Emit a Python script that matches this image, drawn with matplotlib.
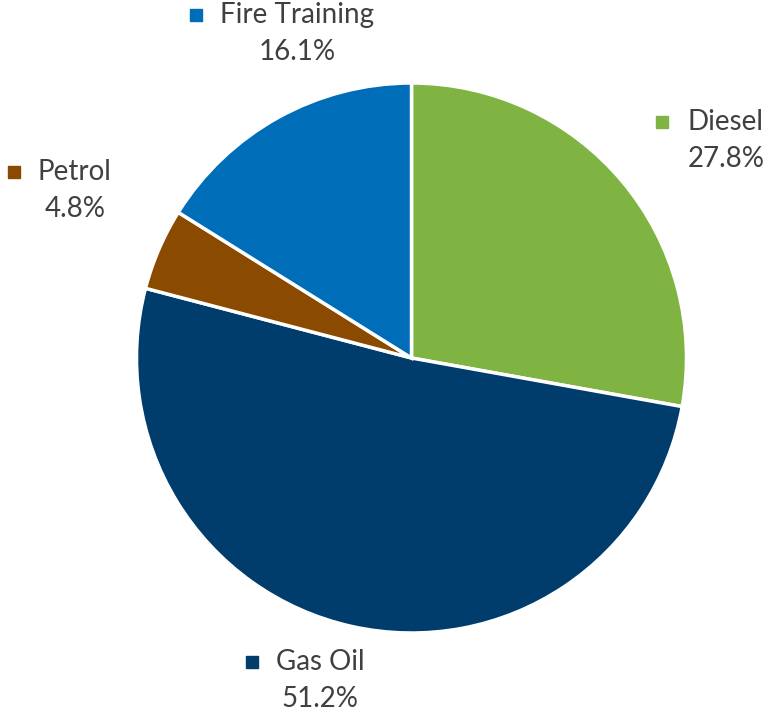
import matplotlib
matplotlib.use('Agg')
import matplotlib.pyplot as plt

labels = ['Diesel', 'Gas Oil', 'Petrol', 'Fire Training']
values = [27.8, 51.2, 4.8, 16.1]
colors = ['#80B442', '#003C6C', '#8A4A00', '#006DB9']

# layout in pixels (image coords): marker x, name left x, name y, percent center x
label_pos = [(662, 688, 122, 726), (252, 276, 662, 320),
             (14, 38, 172, 75), (196, 220, 15, 297)]

fig = plt.figure(figsize=(7.66, 7.17), dpi=100)
ax = fig.add_axes([0, 0, 1, 1])
H = 717

ax.pie(values, colors=colors, startangle=90, counterclock=False,
       center=(411.5, H - 358), radius=275,
       wedgeprops=dict(edgecolor='white', linewidth=2.5))
ax.set_xlim(0, 766)
ax.set_ylim(0, H)
ax.set_aspect('auto')
ax.axis('off')

txt_color = '#404040'
for lab, val, col, (mx, tx, y, px) in zip(labels, values, colors, label_pos):
    ax.plot(mx, H - y, marker='s', markersize=8, color=col, linestyle='none')
    ax.text(tx, H - y, lab, ha='left', va='center', fontsize=20,
            family='Lato', color=txt_color)
    ax.text(px, H - y - 37, f'{val:.1f}%', ha='center', va='center',
            fontsize=20, family='Lato', color=txt_color)

fig.savefig('out.png', dpi=100)
